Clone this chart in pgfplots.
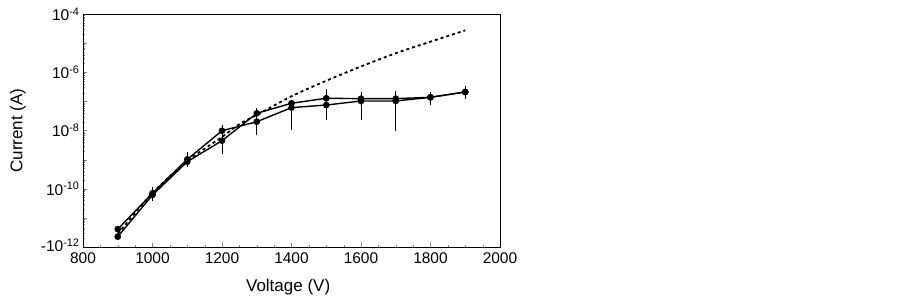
\documentclass[border=0pt]{standalone}
\usepackage{fontspec}
\setmainfont{Liberation Sans}
\usepackage{pgfplots}
\usepackage{pgfplotstable}
\pgfplotsset{compat=1.18}

\pgfplotstableread{
x y ep em
900 4.1e-12 0 0
1000 7.0e-11 3e-11 1.5e-11
1100 1.02e-9 5e-10 3e-10
1200 9.8e-9 3.5e-9 2.2e-9
1300 2.0e-8 5e-9 4e-9
1400 6.1e-8 3.7e-8 4.9e-8
1500 7.5e-8 1.5e-8 4.9e-8
1600 1.03e-7 1.5e-8 7.7e-8
1700 1.03e-7 1.5e-8 9.2e-8
1800 1.38e-7 2e-8 4.7e-8
1900 2.1e-7 2e-8 6.5e-8
}\seriesA

\pgfplotstableread{
x y ep em
900 2.26e-12 0 0
1000 6.1e-11 2e-11 1.5e-11
1100 8.5e-10 3e-10 2e-10
1200 4.47e-9 3.5e-9 2.6e-9
1300 3.9e-8 1.1e-8 3.1e-8
1400 8.6e-8 1.2e-8 1.5e-8
1500 1.28e-7 1.0e-7 2e-8
1600 1.24e-7 5.1e-8 2e-8
1700 1.24e-7 7.6e-8 2e-8
1800 1.38e-7 4.1e-8 2e-8
1900 2.1e-7 7e-8 2e-8
}\seriesB

\pgfplotstableread{
x y
900 2.8e-12
1000 7.1e-11
1100 8.9e-10
1200 6.0e-9
1250 1.66e-8
1300 3.4e-8
1400 1.5e-7
1500 5.1e-7
1600 1.58e-6
1700 4.5e-6
1800 1.12e-5
1900 2.75e-5
}\model

\begin{document}
\begin{tikzpicture}
\useasboundingbox (0,0) rectangle (903pt,299pt);
\begin{axis}[
  at={(83pt,52pt)}, anchor=south west,
  scale only axis, width=417pt, height=233pt,
  xmin=800, xmax=2000,
  ymode=log, ymin=1e-12, ymax=1e-4,
  xtick={800,1000,...,2000},
  minor x tick num=3,
  ytick={1e-12,1e-11,1e-10,1e-9,1e-8,1e-7,1e-6,1e-5,1e-4},
  yticklabels={{\raisebox{4pt}{-10\textsuperscript{-12}}},{},{10\textsuperscript{-10}},{},{10\textsuperscript{-8}},{},{10\textsuperscript{-6}},{},{10\textsuperscript{-4}}},
  tick align=inside, xtick pos=bottom, ytick pos=left,
  major tick length=4pt, minor tick length=2pt,
  axis line style={line width=0.8pt},
  /pgf/number format/assume math mode=true,
  /pgf/number format/1000 sep={},
  tick label style={font=\fontsize{15.5}{18}\selectfont},
  xticklabel style={yshift=-2pt},
  xlabel={Voltage (V)}, ylabel={Current (A)},
  every axis x label/.style={at={(axis description cs:0.492,-0.172)}, anchor=center, font=\fontsize{17}{20}\selectfont},
  every axis y label/.style={at={(axis description cs:-0.156,0.5)}, rotate=90, anchor=center, font=\fontsize{17}{20}\selectfont},
  clip=false,
]
\addplot[black, line width=1.4pt, mark=*, mark size=2.6pt,
  error bars/.cd, y dir=both, y explicit,
  error bar style={line width=0.6pt, solid},
  error mark options={mark size=2pt, line width=0.6pt}]
  table[x=x, y=y, y error plus=ep, y error minus=em]{\seriesA};
\addplot[black, line width=1.4pt, mark=*, mark size=2.6pt,
  error bars/.cd, y dir=both, y explicit,
  error bar style={line width=0.6pt, solid},
  error mark options={mark size=2pt, line width=0.6pt}]
  table[x=x, y=y, y error plus=ep, y error minus=em]{\seriesB};
\addplot[black, line width=1.8pt, dash pattern=on 3pt off 3pt, smooth, no marks]
  table[x=x, y=y]{\model};
\end{axis}
\end{tikzpicture}
\end{document}
